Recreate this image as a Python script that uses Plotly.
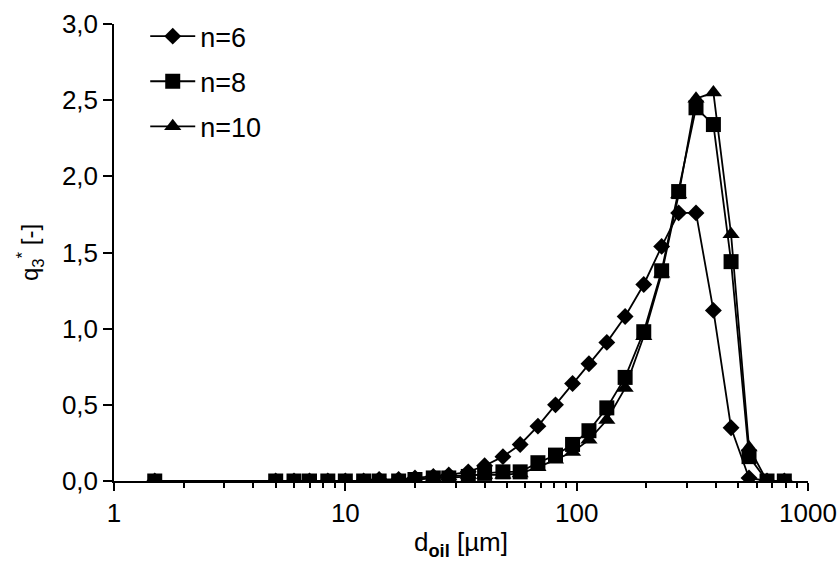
import plotly.graph_objects as go

# particle size classes d_oil [µm]
d_oil = [1.5, 5, 6, 7, 8.4, 10, 12, 14, 17, 20, 24, 28, 34, 40, 48, 57, 68, 81,
         96, 113, 135, 162, 195, 233, 276, 328, 390, 465, 556, 665, 790]

q3_n6 = [0, 0, 0, 0, 0, 0, 0, 0.01, 0.01, 0.02, 0.03, 0.04, 0.06, 0.10, 0.16, 0.24,
         0.36, 0.50, 0.64, 0.77, 0.91, 1.08, 1.29, 1.54, 1.76, 1.76, 1.12, 0.35, 0.02, 0, 0]
q3_n8 = [0, 0, 0, 0, 0, 0, 0, 0, 0, 0.01, 0.02, 0.02, 0.03, 0.05, 0.06, 0.06,
         0.12, 0.17, 0.24, 0.33, 0.48, 0.68, 0.98, 1.38, 1.90, 2.45, 2.34, 1.44, 0.16, 0, 0]
q3_n10 = [0, 0, 0, 0, 0, 0, 0, 0, 0, 0.01, 0.02, 0.03, 0.04, 0.04, 0.04, 0.05,
          0.09, 0.14, 0.19, 0.27, 0.40, 0.61, 0.95, 1.36, 1.88, 2.51, 2.55, 1.62, 0.22, 0, 0]

series = [
    ("n=6", q3_n6, "diamond", 13, 1),
    ("n=10", q3_n10, "triangle-up", 15, 3),
    ("n=8", q3_n8, "square", 15, 2),
]

x_major = [1, 10, 100, 1000]
x_minor = [m * 10 ** k for k in range(3) for m in range(2, 10)]
y_ticks = [0, 0.5, 1.0, 1.5, 2.0, 2.5, 3.0]

fig = go.Figure()
for name, vals, sym, size, rank in series:
    fig.add_trace(go.Scatter(
        x=d_oil, y=vals, name=name, mode="lines+markers",
        line=dict(color="black", width=1.8),
        marker=dict(symbol=sym, size=size, color="black"),
        legendgroup=name, legendrank=rank,
    ))

font = "Liberation Sans, Arial, sans-serif"
fig.update_layout(
    width=838, height=574,
    margin=dict(l=114, r=30, t=24, b=93, autoexpand=False),
    paper_bgcolor="white", plot_bgcolor="white",
    separators=",.",
    font=dict(family=font, size=26, color="black"),
    showlegend=True,
    legend=dict(x=0.045, y=1.026, xanchor="left", yanchor="top",
                bgcolor="rgba(0,0,0,0)", font=dict(size=27),
                tracegroupgap=7, itemwidth=45),
)
fig.update_xaxes(
    type="log", range=[0, 3],
    tickvals=x_major, ticktext=[str(v) for v in x_major],
    ticklabeloverflow="allow",
    showline=True, linecolor="black", linewidth=1.5,
    ticks="outside", ticklen=8, tickwidth=1.5, tickcolor="black",
    minor=dict(tickvals=x_minor, ticks="outside", ticklen=5, tickwidth=1.5, tickcolor="black"),
    showgrid=False, zeroline=False,
    title=dict(text="d<sub><b>oil</b></sub> [µm]", font=dict(size=26), standoff=6),
)
fig.update_yaxes(
    range=[0, 3], tickvals=y_ticks, tickformat=".1f",
    showline=True, linecolor="black", linewidth=1.5,
    ticks="outside", ticklen=9, tickwidth=1.5, tickcolor="black",
    showgrid=False, zeroline=False,
    title=dict(text="q<sub>3</sub><sup>*</sup> [-]", font=dict(size=24), standoff=16),
)

fig.write_html("out.html")
